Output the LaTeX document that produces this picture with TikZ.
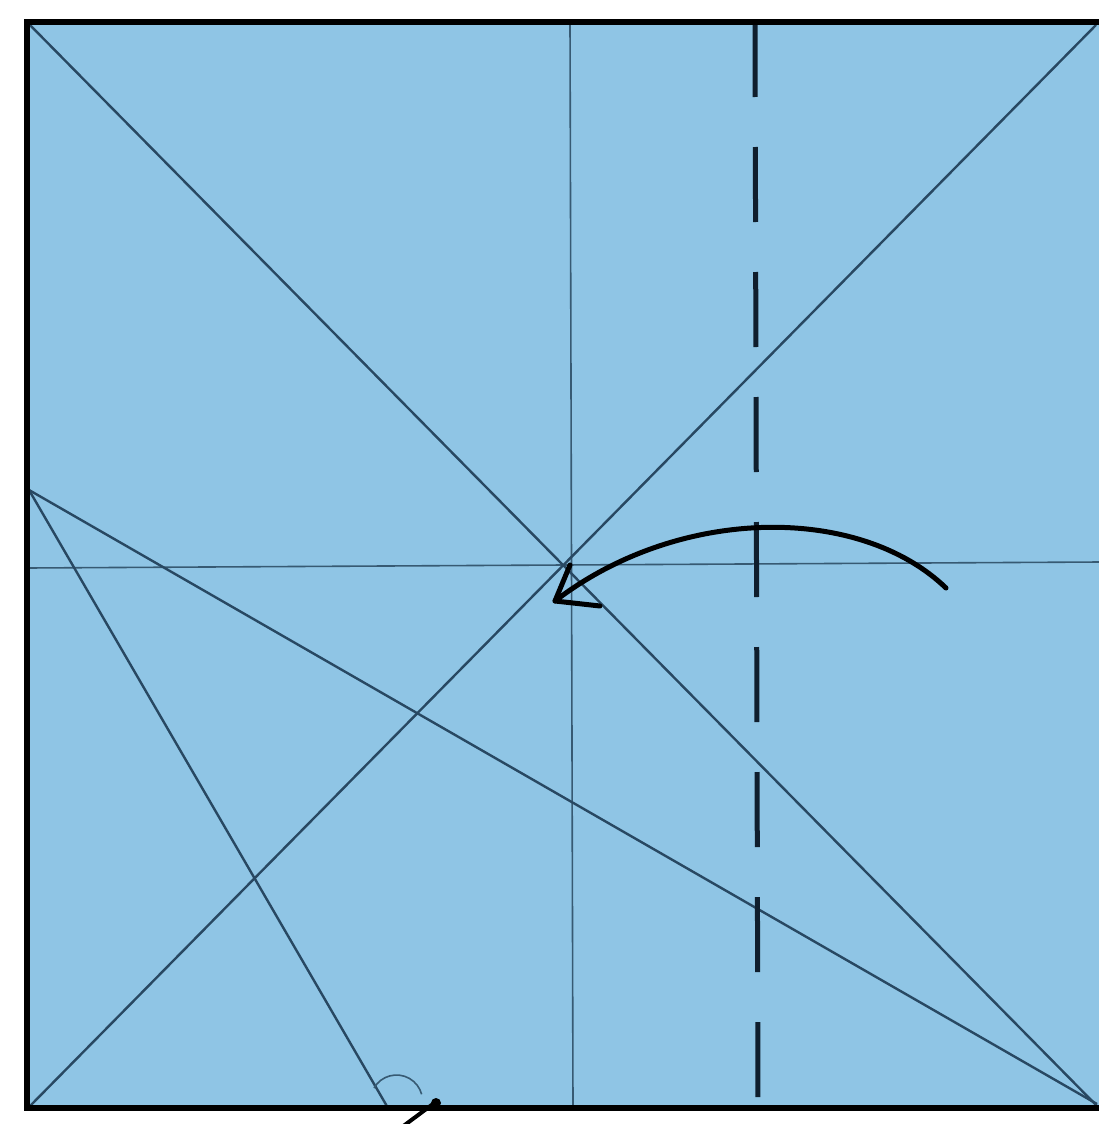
\documentclass[tikz,border=0pt]{standalone}
\begin{document}
\begin{tikzpicture}[x=1pt,y=-1pt,
  crease/.style={draw={rgb,255:red,40;green,72;blue,98}, line width=2.4pt},
  thincrease/.style={draw={rgb,255:red,55;green,90;blue,115}, line width=1.6pt},
  valley/.style={draw={rgb,255:red,15;green,30;blue,45}, line width=5pt, dash pattern=on 75pt off 50pt},
  border/.style={draw=black, line width=5.5pt},
  foldarrow/.style={draw=black, line width=5pt, line cap=round}]
\useasboundingbox (0,0) rectangle (1099,1124);
\clip (0,0) rectangle (1099,1124);
\fill[white] (0,0) rectangle (1099,1124);
% corners
\coordinate (TL) at (27,22);
\coordinate (TR) at (1100,22);
\coordinate (BL) at (27,1108);
\coordinate (BR) at (1100,1108);
\coordinate (L) at (29,490);
\coordinate (B) at (388,1108);
\fill[fill={rgb,255:red,143;green,197;blue,229}] (TL) rectangle (BR);
% creases
\draw[thincrease] (570,22) -- (573,1108);
\draw[thincrease] (27,568) -- (1100,562);
\draw[crease] (TL) -- (1097,1106);
\draw[crease] (1096,25) -- (30,1106);
\draw[crease] (L) -- (1097,1104);
\draw[crease] (L) -- (B);
\draw[thincrease] (374,1088) arc[start angle=210, end angle=345, radius=26];
% valley fold
\draw[valley] (755,22) -- (758,1105);
% border
\draw[border] (1105,22) -- (TL) -- (BL) -- (1105,1108);
% fold arrow
\coordinate (As) at (946,588);
\coordinate (At) at (555,601);
\draw[foldarrow] (As) .. controls (860,505) and (680,505) .. (At);
\draw[foldarrow, line join=round] (570,565) -- (At) -- (600,606);
% small mark below bottom edge
\draw[draw=black, line width=4pt, line cap=round] (398,1130) -- (437,1101);
\fill[black] (436,1103) circle (5);
\end{tikzpicture}
\end{document}
